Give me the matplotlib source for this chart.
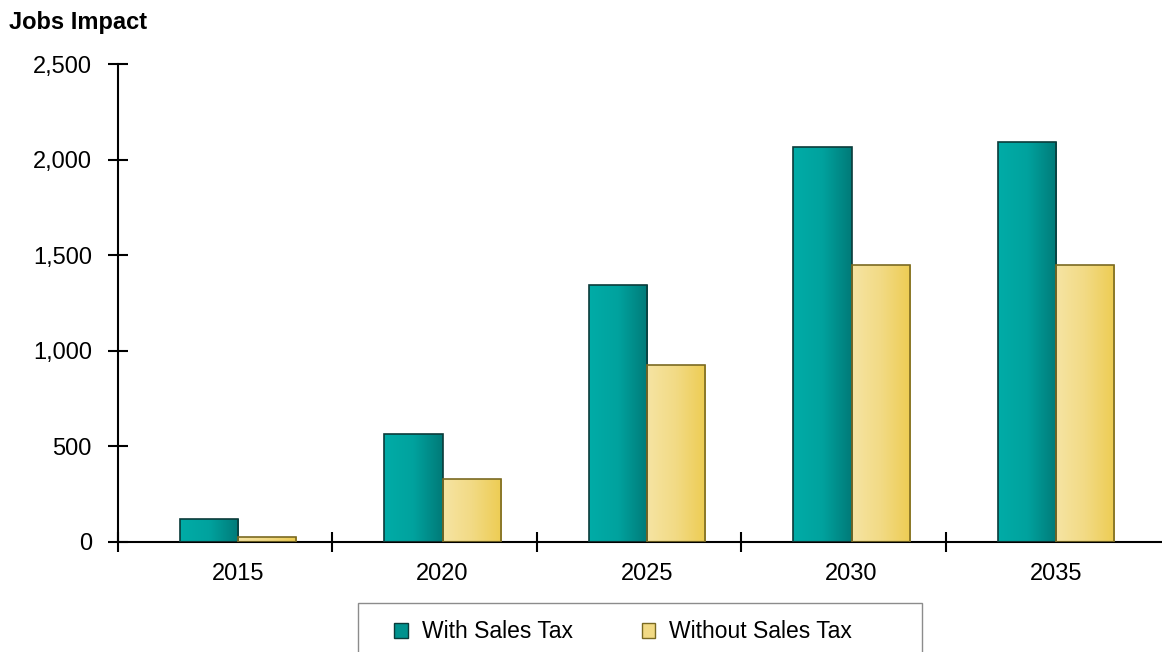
import numpy as np
import matplotlib
matplotlib.use("Agg")
import matplotlib.pyplot as plt
from matplotlib.colors import LinearSegmentedColormap
from matplotlib.patches import Patch, Rectangle
from matplotlib.ticker import FuncFormatter, FixedLocator

plt.rcParams['font.family'] = ['Liberation Sans', 'DejaVu Sans']

# values
years = ['2015', '2020', '2025', '2030', '2035']
with_tax = [120, 565, 1345, 2065, 2090]
without_tax = [25, 330, 925, 1450, 1450]

teal_cmap = LinearSegmentedColormap.from_list('teal', ['#00aca7', '#00a29e', '#007a78'])
gold_cmap = LinearSegmentedColormap.from_list('gold', ['#f6e4a3', '#f2da84', '#edcc52'])

fig = plt.figure(figsize=(11.62, 6.52), dpi=100)
ax = fig.add_axes([118/1162, 1 - 542/652, 1 - 118/1162, (542 - 64)/652])

x = np.arange(len(years))
w = 0.284
b1 = ax.bar(x - w/2, with_tax, w, facecolor='none', edgecolor='#0b3b3a', linewidth=1.2, zorder=3)
b2 = ax.bar(x + w/2, without_tax, w, facecolor='none', edgecolor='#7a6a22', linewidth=1.2, zorder=3)

# horizontal gradient fill inside each bar
grad = np.linspace(0, 1, 256).reshape(1, -1)
for bars, cm in [(b1, teal_cmap), (b2, gold_cmap)]:
    for r in bars:
        x0, h = r.get_x(), r.get_height()
        im = ax.imshow(grad, cmap=cm, aspect='auto', zorder=2,
                       extent=[x0, x0 + r.get_width(), 0, h])
        im.set_clip_path(r)

xlim = (-0.587, 4.518)
ax.set_xlim(xlim)
ax.set_ylim(0, 2500)

ax.set_yticks(np.arange(0, 2501, 500))
ax.yaxis.set_major_formatter(FuncFormatter(lambda v, p: f'{v:,.0f}'))
ax.tick_params(axis='y', direction='inout', length=13.7, width=1.5, pad=12, labelsize=17)

ax.set_xticks(x)
ax.set_xticklabels(years)
ax.tick_params(axis='x', which='major', length=0, pad=15, labelsize=17)
ax.xaxis.set_minor_locator(FixedLocator([xlim[0]] + [i + 0.46 for i in range(len(years) - 1)]))
ax.tick_params(axis='x', which='minor', direction='inout', length=13.7, width=1.5)

for s in ['top', 'right']:
    ax.spines[s].set_visible(False)
for s in ['left', 'bottom']:
    ax.spines[s].set_linewidth(1.5)

fig.text(9/1162, 1 - 22/652, 'Jobs Impact', fontsize=17, fontweight='bold', va='center', ha='left')

# legend box, cut off by the bottom edge
fig.patches.append(Rectangle((358/1162, -0.1), 564/1162, (652 - 603)/652 + 0.1,
                             transform=fig.transFigure, facecolor='white',
                             edgecolor='#8c8c8c', linewidth=1.0))
handles = [Patch(facecolor='#00928e', edgecolor='#0b3b3a', label='With Sales Tax'),
           Patch(facecolor='#f2da84', edgecolor='#7a6a22', label='Without Sales Tax')]
fig.legend(handles=handles, loc='center left', bbox_to_anchor=(383/1162, 1 - 632/652),
           ncol=2, frameon=False, fontsize=16.5, borderpad=0, handlelength=0.6,
           handleheight=0.6, handletextpad=0.6, columnspacing=3.0)

fig.savefig('out.png', dpi=100)
